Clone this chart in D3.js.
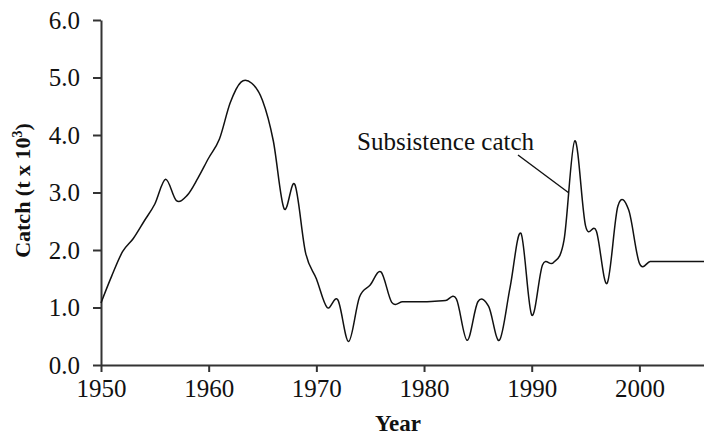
<!DOCTYPE html>
<html>
<head>
<meta charset="utf-8">
<script src="https://cdn.jsdelivr.net/npm/d3@7"></script>
<style>
  html, body { margin: 0; padding: 0; background: #fff; }
  svg { display: block; }
  text { font-family: "Liberation Serif", "Times New Roman", serif; fill: #111; }
</style>
</head>
<body>
<svg id="chart" width="704" height="436"></svg>
<script>
const years = d3.range(1950, 2007);
const catchValues = [
  1.08, 1.55, 1.97, 2.20, 2.50, 2.80, 3.23, 2.86, 2.95, 3.25,
  3.60, 3.93, 4.56, 4.92, 4.90, 4.60, 3.90, 2.72, 3.14, 1.95,
  1.50, 1.00, 1.13, 0.41, 1.18, 1.39, 1.62, 1.09, 1.10, 1.10,
  1.10, 1.11, 1.12, 1.15, 0.43, 1.10, 1.02, 0.43, 1.36, 2.29,
  0.87, 1.74, 1.78, 2.17, 3.90, 2.42, 2.33, 1.42, 2.76, 2.70,
  1.77, 1.80, 1.80, 1.80, 1.80, 1.80, 1.80
];
const xTicks = [1950, 1960, 1970, 1980, 1990, 2000];
const yTicks = [0, 1, 2, 3, 4, 5, 6];
const seriesLabel = "Subsistence catch";

const data = years.map((yr, i) => ({ year: yr, value: catchValues[i] }));

const svg = d3.select("#chart");
const x = d3.scaleLinear().domain([1950, 2006]).range([101, 704]);
const y = d3.scaleLinear().domain([0, 6]).range([365, 20]);

const axisColor = "#333";

// x axis
const gx = svg.append("g").attr("transform", `translate(0,${y(0)})`)
  .call(d3.axisBottom(x).tickValues(xTicks).tickFormat(d3.format("d"))
    .tickSize(7).tickSizeOuter(0).tickPadding(7));
gx.selectAll("text").attr("font-size", 25);

// y axis
const gy = svg.append("g").attr("transform", `translate(${x(1950)},0)`)
  .call(d3.axisLeft(y).tickValues(yTicks).tickFormat(d3.format(".1f"))
    .tickSize(8).tickSizeOuter(0).tickPadding(13));
gy.selectAll("text").attr("font-size", 25);

svg.selectAll(".domain, .tick line").attr("stroke", axisColor).attr("stroke-width", 2);
svg.selectAll(".tick text").attr("font-family", "Liberation Serif").attr("fill", "#111");

// line
const line = d3.line()
  .x(d => x(d.year)).y(d => y(d.value))
  .curve(d3.curveCardinal.tension(0));
svg.append("path").datum(data)
  .attr("d", line)
  .attr("fill", "none")
  .attr("stroke", "#111")
  .attr("stroke-width", 1.5);

// annotation
svg.append("text").attr("x", 357).attr("y", 150)
  .attr("font-size", 25).text(seriesLabel);
svg.append("line")
  .attr("x1", 518).attr("y1", 155)
  .attr("x2", x(1993.4)).attr("y2", y(3.0))
  .attr("stroke", "#111").attr("stroke-width", 1.4);

// axis titles
svg.append("text")
  .attr("x", 398).attr("y", 431)
  .attr("text-anchor", "middle").attr("font-weight", "bold").attr("font-size", 23)
  .text("Year");

const yt = svg.append("text")
  .attr("transform", `translate(30,${(y(0) + y(6)) / 2 - 2}) rotate(-90)`)
  .attr("text-anchor", "middle").attr("font-weight", "bold").attr("font-size", 22);
yt.append("tspan").text("Catch (t x 10");
yt.append("tspan").attr("font-size", 14).attr("dy", -8).text("3");
yt.append("tspan").attr("dy", 8).text(")");
</script>
</body>
</html>
